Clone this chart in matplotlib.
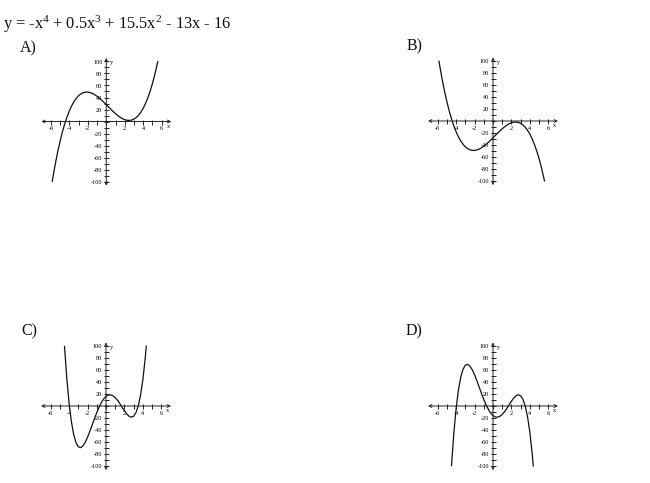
import matplotlib
matplotlib.use('Agg')
import matplotlib.pyplot as plt
from matplotlib.ticker import FixedLocator

plt.rcParams['font.family'] = ['Liberation Serif', 'DejaVu Serif']
plt.rcParams['mathtext.fontset'] = 'custom'
plt.rcParams['mathtext.rm'] = 'Liberation Serif'
plt.rcParams['mathtext.it'] = 'Liberation Serif:italic'
plt.rcParams['axes.unicode_minus'] = False

title = 'y = -x$^{4}$ + 0.5x$^{3}$ + 15.5x$^{2}$ - 13x - 16'
panel_labels = ['A)', 'B)', 'C)', 'D)']

# curve samples
x_ab = [-5.86, -5.75, -5.5, -5.25, -5.0, -4.75, -4.5, -4.25, -4.0, -3.75, -3.5, -3.25,
        -3.0, -2.75, -2.5, -2.25, -2.0, -1.75, -1.5, -1.25, -1.0, -0.75, -0.5, -0.25,
        0.0, 0.25, 0.5, 0.75, 1.0, 1.25, 1.5, 1.75, 2.0, 2.25, 2.5, 2.75, 3.0, 3.25,
        3.5, 3.75, 4.0, 4.25, 4.5, 4.75, 5.0, 5.25, 5.5, 5.58]
y_a = [-99.6, -89.5, -68.3, -49.1, -32.0, -16.8, -3.5, 8.1, 18.0, 26.4, 33.3, 38.8,
       43.0, 46.1, 48.0, 49.0, 49.0, 48.2, 46.8, 44.6, 42.0, 38.9, 35.5, 31.8,
       28.0, 24.1, 20.3, 16.5, 13.0, 9.8, 7.0, 4.7, 3.0, 2.0, 1.8, 2.4, 4.0, 6.7,
       10.5, 15.6, 22.0, 29.9, 39.3, 50.3, 63.0, 77.6, 94.0, 99.7]
y_b = [99.6, 89.5, 68.3, 49.1, 32.0, 16.8, 3.5, -8.1, -18.0, -26.4, -33.3, -38.8,
       -43.0, -46.1, -48.0, -49.0, -49.0, -48.2, -46.8, -44.6, -42.0, -38.9, -35.5, -31.8,
       -28.0, -24.1, -20.3, -16.5, -13.0, -9.8, -7.0, -4.7, -3.0, -2.0, -1.8, -2.4, -4.0, -6.7,
       -10.5, -15.6, -22.0, -29.9, -39.3, -50.3, -63.0, -77.6, -94.0, -99.7]

x_cd = [-4.5, -4.25, -4.0, -3.75, -3.5, -3.25, -3.0, -2.75, -2.5, -2.25, -2.0, -1.75,
        -1.5, -1.25, -1.0, -0.75, -0.5, -0.25, 0.0, 0.25, 0.5, 0.75, 1.0, 1.25,
        1.5, 1.75, 2.0, 2.25, 2.5, 2.75, 3.0, 3.25, 3.5, 3.75, 4.0, 4.25, 4.37]
y_c = [99.3, 45.4, 4.0, -26.6, -47.9, -61.2, -68.0, -69.4, -66.5, -60.4, -52.0, -42.2,
       -31.6, -21.1, -11.0, -1.9, 5.8, 11.8, 16.0, 18.3, 18.6, 17.1, 14.0, 9.5,
       4.0, -2.0, -8.0, -13.3, -17.1, -18.7, -17.0, -11.1, 0.3, 18.2, 44.0, 79.2, 99.8]
y_d = [-99.3, -45.4, -4.0, 26.6, 47.9, 61.2, 68.0, 69.4, 66.5, 60.4, 52.0, 42.2,
       31.6, 21.1, 11.0, 1.9, -5.8, -11.8, -16.0, -18.3, -18.6, -17.1, -14.0, -9.5,
       -4.0, 2.0, 8.0, 13.3, 17.1, 18.7, 17.0, 11.1, -0.3, -18.2, -44.0, -79.2, -99.8]

x_labeled = [-6, -4, -2, 2, 4, 6]
x_small = list(range(-6, 7))
y_labeled = [-100, -80, -60, -40, -20, 20, 40, 60, 80, 100]
y_small = list(range(-100, 101, 10))

curves = [(x_ab, y_a), (x_ab, y_b), (x_cd, y_c), (x_cd, y_d)]

W, H = 650, 483
fig = plt.figure(figsize=(W / 100, H / 100), dpi=100)

fig.text(3 / W, 1 - 24 / H, title, ha='left', va='center', fontsize=11.8, color='#111111')

# graph origins in pixels (from top-left) and label positions
origins = [(106.3, 121.5), (493.0, 121.0), (106.0, 406.0), (493.0, 406.0)]
label_pos = [(20, 48), (407, 46), (21, 331), (406, 331)]
px_x, px_y = 9.22, 0.6   # pixels per unit
xlim, ylim = 7.5, 110

for (ox, oy), (lx, ly), lab, (xs, ys) in zip(origins, label_pos, panel_labels, curves):
    fig.text(lx / W, 1 - ly / H, lab, ha='left', va='center', fontsize=11.5, color='#111111')

    w = 2 * xlim * px_x
    h = 2 * ylim * px_y
    ax = fig.add_axes([(ox - w / 2) / W, 1 - (oy + h / 2) / H, w / W, h / H])
    ax.set_xlim(-xlim, xlim)
    ax.set_ylim(-ylim, ylim)
    ax.patch.set_visible(False)
    for side in ['top', 'right']:
        ax.spines[side].set_visible(False)
    ax.spines['left'].set_position('zero')
    ax.spines['bottom'].set_position('zero')
    ax.spines['left'].set_visible(False)
    ax.spines['bottom'].set_visible(False)

    ax.xaxis.set_major_locator(FixedLocator(x_labeled))
    ax.xaxis.set_minor_locator(FixedLocator(x_small))
    ax.yaxis.set_major_locator(FixedLocator(y_labeled))
    ax.yaxis.set_minor_locator(FixedLocator(y_small))
    ax.tick_params(which='both', direction='inout', length=3.6, width=0.7,
                   color='#222222', labelsize=4.5, pad=1)
    ax.tick_params(axis='x', pad=1.5)

    # axis lines with arrowheads at both ends
    ax.annotate('', xy=(7.05, 0), xytext=(-7.05, 0),
                arrowprops=dict(arrowstyle='<->', lw=0.7, color='#222222',
                                shrinkA=0, shrinkB=0, mutation_scale=5),
                annotation_clip=False)
    ax.annotate('', xy=(0, 106), xytext=(0, -107),
                arrowprops=dict(arrowstyle='<->', lw=0.7, color='#222222',
                                shrinkA=0, shrinkB=0, mutation_scale=5),
                annotation_clip=False)
    ax.text(6.7, -8, 'x', fontsize=4.5, ha='center', va='center')
    ax.text(0.55, 98, 'y', fontsize=4.5, ha='center', va='center')

    ax.plot(xs, ys, color='#111111', lw=0.9)

fig.savefig('out.png', dpi=100)
